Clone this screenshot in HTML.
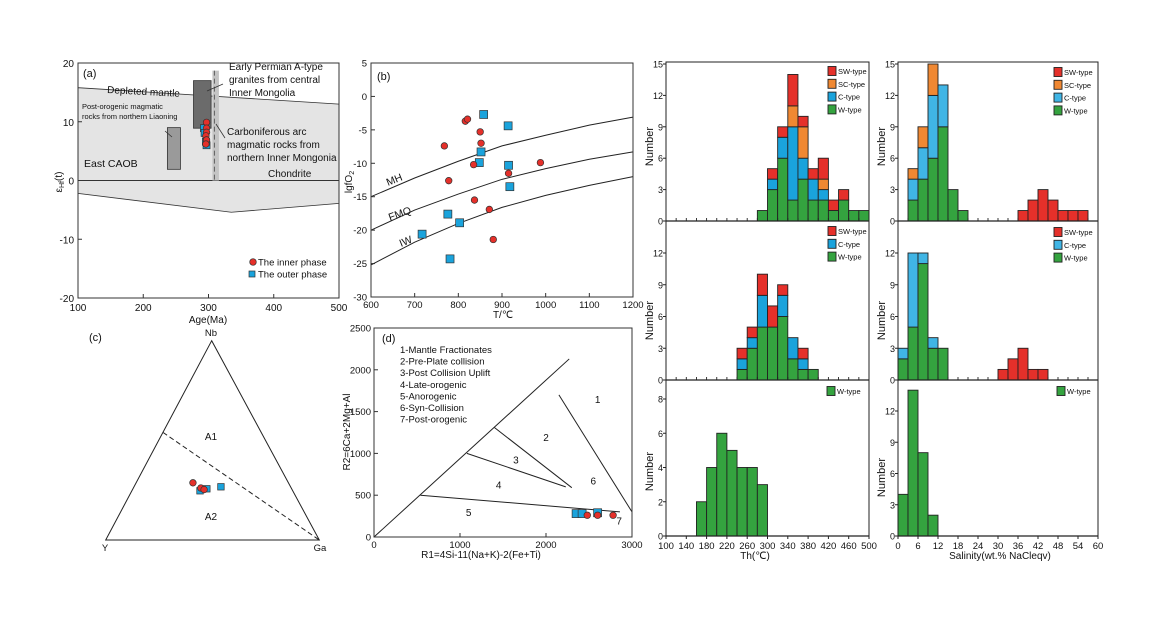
<!DOCTYPE html>
<html><head><meta charset="utf-8">
<style>
html,body{margin:0;padding:0;background:#fff;}
svg{display:block;font-family:"Liberation Sans",Arial,sans-serif;}
</style></head>
<body>
<svg id="fig" width="1159" height="635" viewBox="0 0 1159 635" xmlns="http://www.w3.org/2000/svg"></svg>
<script>
// ===== Data =====
// Panel (a)
const aInnerAge=[297,297,297,296,297,296];
const aInnerEps=[9.9,8.9,8.2,7.6,6.9,6.2];
const aOuterAge=[293,294,297,296];
const aOuterEps=[8.9,8.1,6.0,6.6];
const aTicksX=[100,200,300,400,500];
const aTicksY=[-20,-10,0,10,20];
// Panel (b)
const bCurveT=[600,700,800,900,1000,1100,1200];
const bMH=[-15,-12.2,-9.7,-7.4,-5.8,-4.3,-3.1];
const bFMQ=[-20,-17,-14.6,-12.4,-10.8,-9.4,-8.3];
const bIW=[-25.2,-21.8,-19,-16.6,-14.8,-13.3,-12];
const bInnerT=[768,778,816,821,835,837,850,852,871,880,915,988];
const bInnerF=[-7.4,-12.6,-3.7,-3.4,-10.2,-15.5,-5.3,-7,-16.9,-21.4,-11.5,-9.9];
const bOuterT=[717,776,781,803,848,852,858,914,915,918];
const bOuterF=[-20.6,-17.6,-24.3,-18.9,-9.9,-8.3,-2.7,-4.4,-10.3,-13.5];
const bTicksX=[600,700,800,900,1000,1100,1200];
const bTicksY=[5,0,-5,-10,-15,-20,-25,-30];
// Panel (c) ternary compositions [Nb, Y, Ga]
const cInnerNb=[0.287,0.261,0.253];
const cInnerGa=[0.266,0.316,0.335];
const cOuterNb=[0.247,0.257,0.267];
const cOuterGa=[0.319,0.346,0.407];
// Panel (d)
const dInnerR1=[2480,2600,2780];
const dInnerR2=[260,260,260];
const dOuterR1=[2350,2420,2600];
const dOuterR2=[280,280,290];
const dTicksX=[0,1000,2000,3000];
const dTicksY=[0,500,1000,1500,2000,2500];
// Histograms: Th
const thTopBins=[280,300,320,340,360,380,400,420,440,460,480];
const thTopW=[1,3,6,2,4,2,2,1,2,1,1];
const thTopC=[0,1,2,7,2,2,1,0,0,0,0];
const thTopSC=[0,0,0,2,3,0,1,0,0,0,0];
const thTopSW=[0,1,1,3,1,1,2,1,1,0,0];
const thMidBins=[240,260,280,300,320,340,360,380];
const thMidW=[1,3,5,5,6,2,1,1];
const thMidC=[1,1,3,0,2,2,1,0];
const thMidSW=[1,1,2,2,1,0,1,0];
const thBotBins=[160,180,200,220,240,260,280];
const thBotW=[2,4,6,5,4,4,3];
const thTickLabels=[100,140,180,220,260,300,340,380,420,460,500];
// Histograms: Salinity
const salTopBins=[3,6,9,12,15,18,36,39,42,45,48,51,54];
const salTopW=[2,4,6,9,3,1,0,0,0,0,0,0,0];
const salTopC=[2,3,6,4,0,0,0,0,0,0,0,0,0];
const salTopSC=[1,2,3,0,0,0,0,0,0,0,0,0,0];
const salTopSW=[0,0,0,0,0,0,1,2,3,2,1,1,1];
const salMidBins=[0,3,6,9,12,30,33,36,39,42];
const salMidW=[2,5,11,3,3,0,0,0,0,0];
const salMidC=[1,7,1,1,0,0,0,0,0,0];
const salMidSW=[0,0,0,0,0,1,2,3,1,1];
const salBotBins=[0,3,6,9];
const salBotW=[4,14,8,2];
const salTickLabels=[0,6,12,18,24,30,36,42,48,54,60];

// ===== helpers =====
const NS='http://www.w3.org/2000/svg';
const svg=document.getElementById('fig');
function mk(tag,attrs,parent,text){const e=document.createElementNS(NS,tag);for(const k in attrs)e.setAttribute(k,attrs[k]);if(text!==undefined)e.textContent=text;(parent||svg).appendChild(e);return e;}
function grp(name){const g=mk('g',{});


return g;}
function txt(g,x,y,s,opt){opt=opt||{};const t=mk('text',{x:x,y:y,'font-size':opt.fs||10,'text-anchor':opt.anchor||'start',fill:'#111'},g,s);if(opt.rot)t.setAttribute('transform','rotate('+opt.rot+' '+x+' '+y+')');if(opt.fw)t.setAttribute('font-weight',opt.fw);return t;}
const RED='#e5302a',BLUE='#1aa3dc',LBLUE='#40b5e5',GREEN='#34a33f',ORANGE='#f08832';
function circ(g,x,y){const c=mk('circle',{cx:x,cy:y,r:3.3,fill:RED,stroke:'#333','stroke-width':0.7},g);

}
function sq(g,x,y,s){s=s||7;const r=mk('rect',{x:x-s/2,y:y-s/2,width:s,height:s,fill:BLUE,stroke:'#333','stroke-width':0.7},g);

}

// ===== Panel (a) =====
(function(){
const g=grp('panel-a');
const X0=78,X1=339,Y0=63,Y1=298;
const sx=v=>X0+(v-100)*(X1-X0)/400, sy=v=>Y1-(v+20)*(Y1-Y0)/40;
mk('path',{d:`M${sx(100)},${sy(15.8)} L${sx(500)},${sy(13)} L${sx(500)},${sy(-3.9)} L${sx(335)},${sy(-5.4)} L${sx(100)},${sy(-2.2)} Z`,fill:'#e4e4e4',stroke:'#333','stroke-width':0.8},g);
mk('line',{x1:X0,y1:sy(0),x2:X1,y2:sy(0),stroke:'#333','stroke-width':1},g);
mk('rect',{x:sx(237),y:sy(9),width:sx(257)-sx(237),height:sy(1.9)-sy(9),fill:'#9a9a9a',stroke:'#333','stroke-width':0.8},g);
mk('rect',{x:sx(277),y:sy(17),width:sx(304)-sx(277),height:sy(8.9)-sy(17),fill:'#6b6b6b',stroke:'#333','stroke-width':0.8},g);
mk('rect',{x:sx(306),y:sy(18.7),width:sx(316)-sx(306),height:sy(0)-sy(18.7),fill:'#c4c4c4'},g);
mk('line',{x1:sx(309),y1:sy(18.7),x2:sx(309),y2:sy(0),stroke:'#555','stroke-width':0.9,'stroke-dasharray':'5,3'},g);
aOuterAge.forEach((a,i)=>sq(g,sx(a),sy(aOuterEps[i])));
aInnerAge.forEach((a,i)=>circ(g,sx(a),sy(aInnerEps[i])));
mk('rect',{x:X0,y:Y0,width:X1-X0,height:Y1-Y0,fill:'none',stroke:'#333','stroke-width':1},g);
aTicksX.forEach(v=>{mk('line',{x1:sx(v),y1:Y1,x2:sx(v),y2:Y1-4,stroke:'#333'},g);txt(g,sx(v),311,String(v),{anchor:'middle',fs:10});});
aTicksY.forEach(v=>{mk('line',{x1:X0,y1:sy(v),x2:X0+4,y2:sy(v),stroke:'#333'},g);txt(g,X0-4,sy(v)+4,String(v),{anchor:'end',fs:10});});
txt(g,208,323,'Age(Ma)',{anchor:'middle',fs:10});
const yl=txt(g,62,182,'',{anchor:'middle',fs:10,rot:-90});
mk('tspan',{},yl,'ε');mk('tspan',{'font-size':7,dy:2},yl,'Hf');mk('tspan',{dy:-2},yl,'(t)');
txt(g,83,77,'(a)',{fs:11});
txt(g,107,93,'Depleted mantle',{fs:10,rot:3});
txt(g,229,70,'Early Permian A-type',{fs:10});
txt(g,229,83,'granites from central',{fs:10});
txt(g,229,96,'Inner Mongolia',{fs:10});
mk('line',{x1:207,y1:91,x2:223,y2:84,stroke:'#333','stroke-width':0.8},g);
txt(g,82,109,'Post-orogenic magmatic',{fs:7.5,});
txt(g,82,119,'rocks from northern Liaoning',{fs:7.5});
mk('line',{x1:165,y1:131,x2:172,y2:137,stroke:'#333','stroke-width':0.8},g);
txt(g,227,135,'Carboniferous arc',{fs:10});
txt(g,227,148,'magmatic rocks from',{fs:10});
txt(g,227,161,'northern Inner Mongonia',{fs:10});
mk('line',{x1:216,y1:124,x2:225,y2:138,stroke:'#333','stroke-width':0.8},g);
txt(g,84,167,'East CAOB',{fs:10.5});
txt(g,268,177,'Chondrite',{fs:10});
circ(g,253,262);txt(g,258,265.5,'The inner phase',{fs:9.5});
sq(g,252,274,6);txt(g,258,277.5,'The outer phase',{fs:9.5});
})();

// ===== Panel (b) =====
(function(){
const g=grp('panel-b');
const X0=371,X1=633,Y0=63,Y1=297;
const sx=v=>X0+(v-600)*(X1-X0)/600, sy=v=>Y1-(v+30)*(Y1-Y0)/35;
[[bMH,'mh-buffer-curve'],[bFMQ,'fmq-buffer-curve'],[bIW,'iw-buffer-curve']].forEach(([arr,nm])=>{
 const p=mk('path',{d:'M'+bCurveT.map((t,i)=>sx(t)+','+sy(arr[i])).join(' L'),fill:'none',stroke:'#222','stroke-width':1},g);
 
 
});
bOuterT.forEach((t,i)=>sq(g,sx(t),sy(bOuterF[i]),8));
bInnerT.forEach((t,i)=>circ(g,sx(t),sy(bInnerF[i])));
mk('rect',{x:X0,y:Y0,width:X1-X0,height:Y1-Y0,fill:'none',stroke:'#333'},g);
bTicksX.forEach(v=>{mk('line',{x1:sx(v),y1:Y1,x2:sx(v),y2:Y1-4,stroke:'#333'},g);txt(g,sx(v),308,String(v),{anchor:'middle',fs:9.5});});
bTicksY.forEach(v=>{mk('line',{x1:X0,y1:sy(v),x2:X0+4,y2:sy(v),stroke:'#333'},g);txt(g,X0-4,sy(v)+3.5,String(v),{anchor:'end',fs:9.5});});
txt(g,503,318,'T/℃',{anchor:'middle',fs:10});
const yl=txt(g,352,182,'',{anchor:'middle',fs:10,rot:-90});mk('tspan',{},yl,'lgfO');mk('tspan',{'font-size':7,dy:2},yl,'2');
txt(g,377,80,'(b)',{fs:11});
txt(g,388,186,'MH',{fs:10.5,rot:-22});
txt(g,390,221,'FMQ',{fs:10.5,rot:-20});
txt(g,401,247,'IW',{fs:10.5,rot:-22});
})();

// ===== Panel (c) =====
(function(){
const g=grp('panel-c');
const T=[211.7,340.7],Yv=[105.7,540],Gv=[319.3,540];
const pt=(nb,ga)=>{const y=1-nb-ga;return [nb*T[0]+y*Yv[0]+ga*Gv[0], nb*T[1]+y*Yv[1]+ga*Gv[1]];};
mk('path',{d:`M${T} L${Yv} L${Gv} Z`,fill:'none',stroke:'#222','stroke-width':1},g);
const d0=pt(0.54,0),d1=pt(0,1);
mk('line',{x1:d0[0],y1:d0[1],x2:d1[0],y2:d1[1],stroke:'#222','stroke-dasharray':'5,3'},g);
cOuterNb.forEach((nb,i)=>{const p=pt(nb,cOuterGa[i]);sq(g,p[0],p[1],6.5);});
cInnerNb.forEach((nb,i)=>{const p=pt(nb,cInnerGa[i]);circ(g,p[0],p[1]);});
txt(g,211,336,'Nb',{anchor:'middle',fs:9.5});
txt(g,105,551,'Y',{anchor:'middle',fs:9.5});
txt(g,320,551,'Ga',{anchor:'middle',fs:9.5});
txt(g,211,440,'A1',{anchor:'middle',fs:10});
txt(g,211,520,'A2',{anchor:'middle',fs:10});
txt(g,89,341,'(c)',{fs:11});
})();

// ===== Panel (d) =====
(function(){
const g=grp('panel-d');
const X0=374,X1=632,Y0=328,Y1=537;
const sx=v=>X0+v*(X1-X0)/3000, sy=v=>Y1-v*(Y1-Y0)/2500;
const L=(a,b,c,d)=>mk('line',{x1:sx(a),y1:sy(b),x2:sx(c),y2:sy(d),stroke:'#222','stroke-width':1},g);
L(0,0,2270,2130);L(2150,1700,3000,300);L(540,500,2860,300);L(1400,1310,2300,590);L(1080,1000,2230,600);
dOuterR1.forEach((r,i)=>sq(g,sx(r),sy(dOuterR2[i]),8));
dInnerR1.forEach((r,i)=>circ(g,sx(r),sy(dInnerR2[i])));
mk('rect',{x:X0,y:Y0,width:X1-X0,height:Y1-Y0,fill:'none',stroke:'#333'},g);
dTicksX.forEach(v=>{mk('line',{x1:sx(v),y1:Y1,x2:sx(v),y2:Y1-4,stroke:'#333'},g);txt(g,sx(v),548,String(v),{anchor:'middle',fs:9.5});});
dTicksY.forEach(v=>{mk('line',{x1:X0,y1:sy(v),x2:X0+4,y2:sy(v),stroke:'#333'},g);txt(g,X0-3,sy(v)+3.5,String(v),{anchor:'end',fs:9.5});});
txt(g,481,558,'R1=4Si-11(Na+K)-2(Fe+Ti)',{anchor:'middle',fs:10});
txt(g,350,432,'R2=6Ca+2Mg+Al',{anchor:'middle',fs:10,rot:-90});
txt(g,382,342,'(d)',{fs:11});
['1-Mantle Fractionates','2-Pre-Plate collision','3-Post Collision Uplift','4-Late-orogenic','5-Anorogenic','6-Syn-Collision','7-Post-orogenic'].forEach((s,i)=>txt(g,400,353+i*11.6,s,{fs:9.5}));
[['1',2600,1600],['2',2000,1150],['3',1650,880],['4',1450,580],['5',1100,250],['6',2550,630],['7',2850,150]].forEach(a=>txt(g,sx(a[1]),sy(a[2]),a[0],{anchor:'middle',fs:10}));
})();

// ===== Histograms =====
function histo(name,X0,X1,xmin,xmax,bw,yTop,yBot,ymax,ticks,bins,series,tickBins,legendX,legendY){
 const g=grp(name);
 const sx=v=>X0+(v-xmin)*(X1-X0)/(xmax-xmin);
 const sy=v=>yBot-v*(yBot-yTop)/ymax;
 bins.forEach((b,i)=>{let acc=0;series.forEach(s=>{const v=s.vals[i];if(!v)return;
   const r=mk('rect',{x:sx(b),y:sy(acc+v),width:sx(b+bw)-sx(b),height:sy(acc)-sy(acc+v),fill:s.color,stroke:'#222','stroke-width':0.9},g);
   
   
   acc+=v;});});
 if(tickBins){for(let v=xmin;v<=xmax;v+=bw){mk('line',{x1:sx(v),y1:yBot,x2:sx(v),y2:yBot-3,stroke:'#222','stroke-width':0.9},g);}}
 mk('line',{x1:X0,y1:yBot,x2:X1,y2:yBot,stroke:'#222','stroke-width':1.2},g);
 ticks.forEach(v=>{mk('line',{x1:X0-3,y1:sy(v),x2:X0,y2:sy(v),stroke:'#222'},g);txt(g,X0-3,sy(v)+3.5,String(v),{anchor:'end',fs:9});});
 txt(g,X0-13,(yTop+yBot)/2+4,'Number',{anchor:'middle',fs:11,rot:-90});
 const leg=series.slice().reverse();
 leg.forEach((s,i)=>{const y=legendY+i*12.8;mk('rect',{x:legendX,y:y-4.5,width:8,height:9,fill:s.color,stroke:'#222','stroke-width':0.9},g);txt(g,legendX+10,y+3,s.label,{fs:7.5});});
}
// Th column
const TX0=666,TX1=869;
histo('th-histogram-top',TX0,TX1,100,500,20,64,221,15,[0,3,6,9,12,15],thTopBins,
 [{label:'W-type',color:GREEN,vals:thTopW},{label:'C-type',color:BLUE,vals:thTopC},{label:'SC-type',color:ORANGE,vals:thTopSC},{label:'SW-type',color:RED,vals:thTopSW}],true,828,71);
histo('th-histogram-middle',TX0,TX1,100,500,20,253,380,12,[0,3,6,9,12],thMidBins,
 [{label:'W-type',color:GREEN,vals:thMidW},{label:'C-type',color:BLUE,vals:thMidC},{label:'SW-type',color:RED,vals:thMidSW}],true,828,231);
histo('th-histogram-bottom',TX0,TX1,100,500,20,399,536,8,[0,2,4,6,8],thBotBins,
 [{label:'W-type',color:GREEN,vals:thBotW}],false,827,391);
// Salinity column
const SX0=898,SX1=1098;
histo('salinity-histogram-top',SX0,SX1,0,60,3,64,221,15,[0,3,6,9,12,15],salTopBins,
 [{label:'W-type',color:GREEN,vals:salTopW},{label:'C-type',color:LBLUE,vals:salTopC},{label:'SC-type',color:ORANGE,vals:salTopSC},{label:'SW-type',color:RED,vals:salTopSW}],true,1054,72);
histo('salinity-histogram-middle',SX0,SX1,0,60,3,253,380,12,[0,3,6,9,12],salMidBins,
 [{label:'W-type',color:GREEN,vals:salMidW},{label:'C-type',color:LBLUE,vals:salMidC},{label:'SW-type',color:RED,vals:salMidSW}],true,1054,232);
histo('salinity-histogram-bottom',SX0,SX1,0,60,3,411,536,12,[0,3,6,9,12],salBotBins,
 [{label:'W-type',color:GREEN,vals:salBotW}],false,1057,391);
// frames and x labels
(function(){
 const g=grp('histogram-frames');
 mk('rect',{x:TX0,y:62,width:TX1-TX0,height:536-62,fill:'none',stroke:'#222','stroke-width':1},g);
 mk('rect',{x:SX0,y:62,width:SX1-SX0,height:536-62,fill:'none',stroke:'#222','stroke-width':1},g);
 const tx=v=>TX0+(v-100)*(TX1-TX0)/400, ssx=v=>SX0+v*(SX1-SX0)/60;
 thTickLabels.forEach(v=>{mk('line',{x1:tx(v),y1:536,x2:tx(v),y2:539,stroke:'#222'},g);txt(g,tx(v),549,String(v),{anchor:'middle',fs:9.5});});
 salTickLabels.forEach(v=>{mk('line',{x1:ssx(v),y1:536,x2:ssx(v),y2:539,stroke:'#222'},g);txt(g,ssx(v),549,String(v),{anchor:'middle',fs:9.5});});
 txt(g,755,559,'Th(℃)',{anchor:'middle',fs:10});
 txt(g,1000,559,'Salinity(wt.% NaCleqv)',{anchor:'middle',fs:10});
})();
</script>
</body></html>
